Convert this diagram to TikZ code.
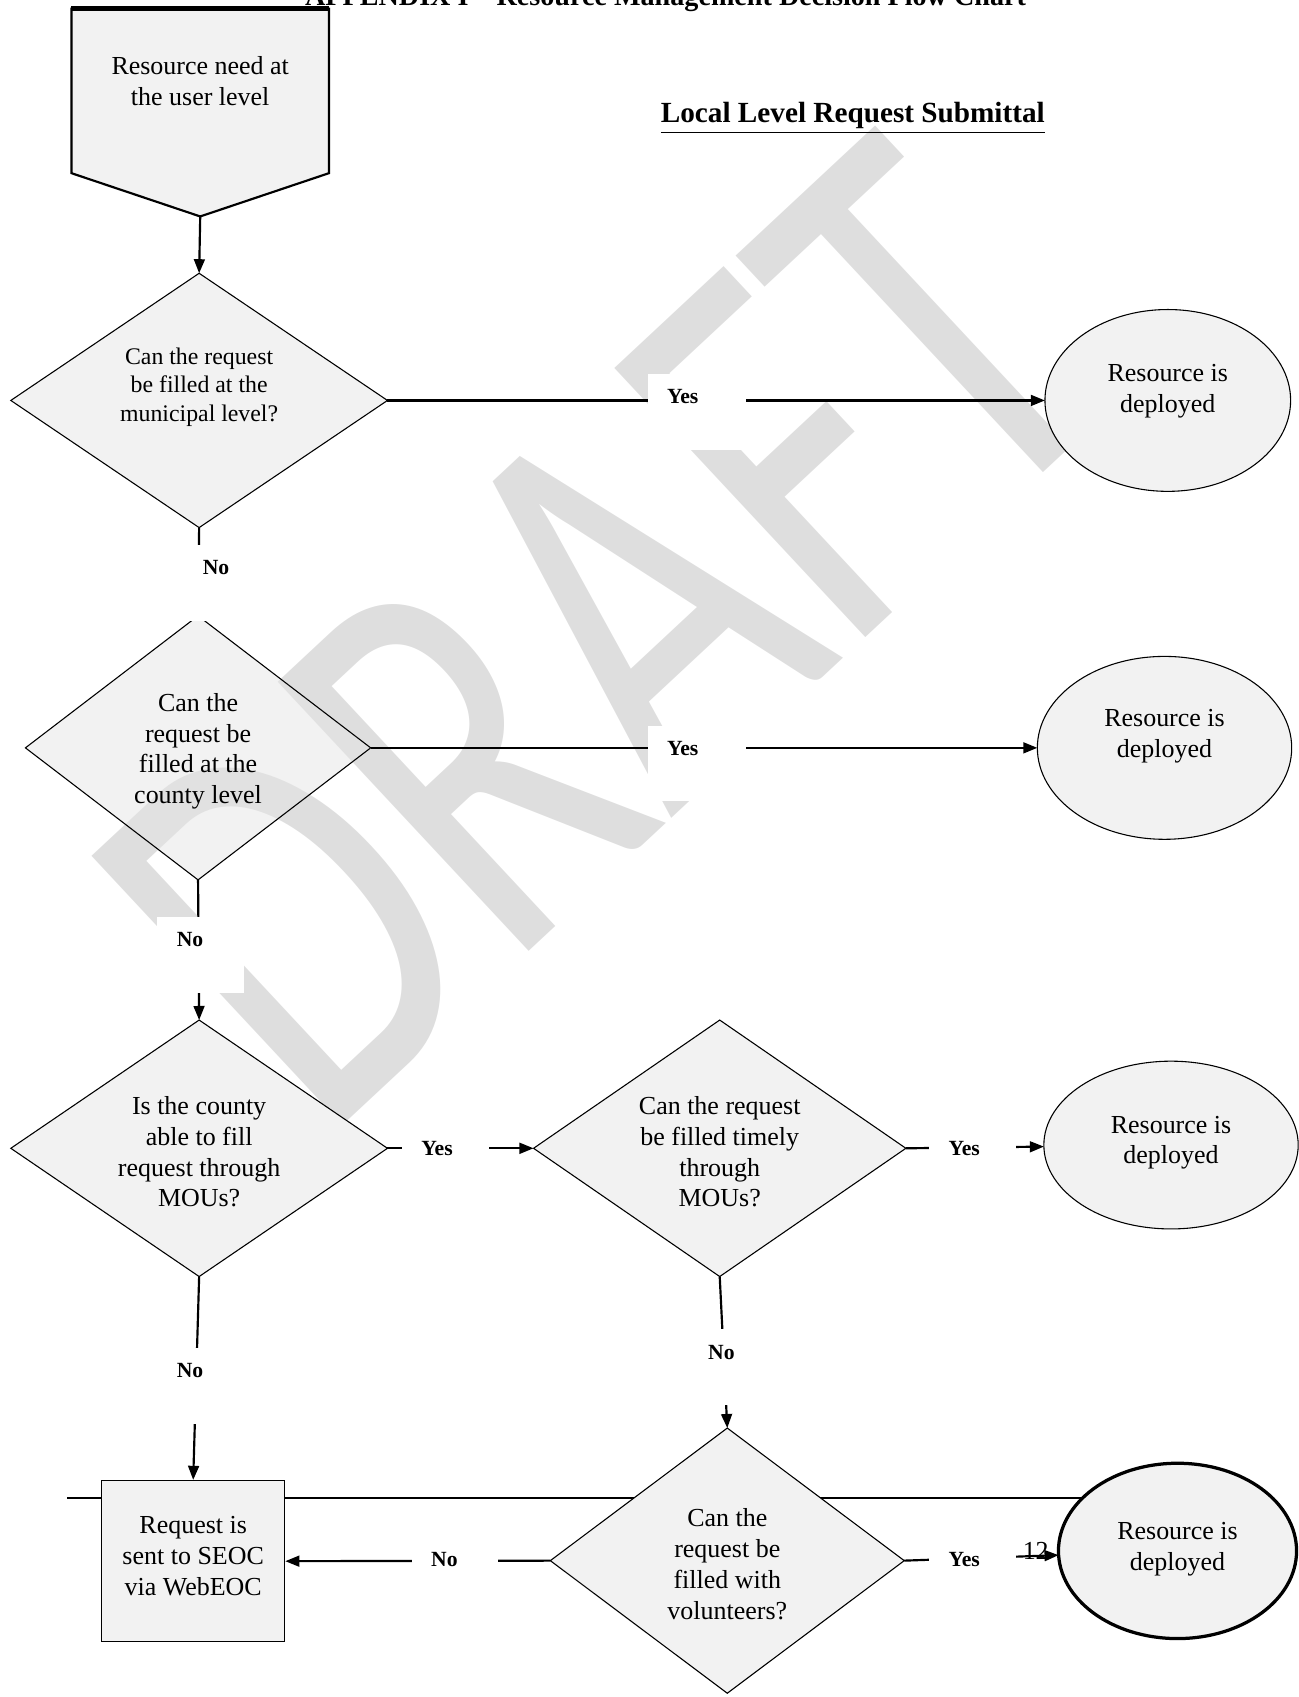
\documentclass[tikz,border=0pt]{standalone}
\usepackage{fontspec}
\setmainfont{Liberation Serif}
\newfontfamily\markfont{Carlito}
\usepackage{xcolor}
\usepackage{tikz}
\usetikzlibrary{positioning,arrows.meta,shapes.geometric}
\newcommand\liftline{\rule{0pt}{11.5pt}}

\begin{document}
\begin{tikzpicture}[
  x=0.5pt, y=-0.5pt,
  >={Triangle[length=6.5pt,width=5pt]},
  body/.style={font=\fontsize{12}{14.3}\selectfont},
  decision/.style={
    diamond,
    aspect=1.5,
    draw=black,
    line width=0.5pt,
    fill=panel,
    align=center,
    inner sep=0pt,
    outer sep=0pt,
    body
  },
  outcome/.style={
    ellipse,
    draw=black,
    line width=0.5pt,
    fill=panel,
    align=center,
    inner sep=0pt,
    outer sep=0pt,
    body
  },
  answer/.style={
    anchor=north west,
    fill=white,
    font=\bfseries\fontsize{10}{12}\selectfont,
    text width=22pt,
    align=left,
    inner xsep=9pt,
    inner ysep=6.8pt,
    text height=7pt,
    text depth=14.4pt
  },
  flow/.style={->,line width=1pt}
]
\definecolor{panel}{HTML}{F2F2F2}
\definecolor{panelsee}{HTML}{E5E5E5}
\definecolor{mark}{HTML}{DEDEDE}

\useasboundingbox (0,0) rectangle (1200,1568);

% watermark
\node[font=\markfont\fontsize{100}{100}\selectfont, text=mark, inner sep=0pt,
  rotate=43, xscale=1.9, yscale=2.65, transform shape] (draftmark) at (555,585) {DRAFT};

% page rule
\draw[line width=1pt] (62,1384) coordinate (rulestart) -- (1090,1384) coordinate (ruleend);

% start shape
\coordinate (needtip) at (185,200);
\filldraw[fill=panel, line width=1pt] (66,8) -- (304,8) -- (304,160) -- (needtip) -- (66,160) -- cycle;
\draw[line width=2pt] (66,8) -- (304,8);
\node[body, align=center] (need) at (185,75) {Resource need at\\the user level};

\node[font=\bfseries\fontsize{13}{15}\selectfont, anchor=base] (appx) at (615,5) {APPENDIX I – Resource Management Decision Flow Chart};
\node[font=\bfseries\fontsize{13.5}{16}\selectfont] (section) at (788,109) {\underline{Local Level Request Submittal}};

% decisions
\node[decision, minimum width=174pt, minimum height=117.5pt, font=\fontsize{11}{13}\selectfont] (muni) at (184,370)
  {\liftline Can the request\\be filled at the\\municipal level?\\[5.5pt]\mbox{}};
\node[decision, minimum width=159.5pt, minimum height=122pt, fill=panelsee, fill opacity=0.5, text opacity=1] (county) at (183,691)
  {\liftline Can the\\request be\\filled at the\\county level};
\node[decision, minimum width=174pt, minimum height=118.5pt] (mou) at (184,1061)
  {\liftline Is the county\\able to fill\\request through\\MOUs?};
\node[decision, minimum width=172pt, minimum height=118.5pt] (timely) at (665,1061)
  {\liftline Can the request\\be filled timely\\through\\MOUs?};
\node[decision, minimum width=163.5pt, minimum height=122.5pt] (volun) at (672,1442)
  {\liftline Can the\\request be\\filled with\\volunteers?};

% outcomes
\node[outcome, minimum width=113.5pt, minimum height=84pt] (dep1) at (1079,370) {\liftline Resource is\\deployed\\[0pt]\mbox{}};
\node[outcome, minimum width=117.5pt, minimum height=84.5pt] (dep2) at (1076,691) {\liftline Resource is\\deployed\\[3pt]\mbox{}};
\node[outcome, minimum width=117.5pt, minimum height=77.5pt] (dep3) at (1082,1058) {\liftline Resource is\\deployed\\[-6pt]\mbox{}};
\node[outcome, minimum width=110pt, minimum height=81pt, line width=1.5pt] (dep4) at (1088,1433) {\liftline Resource is\\deployed\\[-7pt]\mbox{}};

\node[rectangle, draw=black, line width=0.6pt, fill=panel, minimum width=84.5pt, minimum height=74.5pt,
  inner sep=0pt, align=center, body] (seoc) at (178.5,1442.5) {\liftline Request is\\sent to SEOC\\via WebEOC\\[-5.8pt]\mbox{}};

\node[body] (pagenum) at (957,1433) {12};

% connectors
\draw[flow] (needtip) -- (muni.north);
\draw[flow] (muni.east) -- (dep1);
\draw[flow] (muni.south) -- (county.north);
\draw[flow] (county.east) -- (dep2);
\draw[flow] (county.south) -- (mou.north);
\draw[flow] (mou.east) -- (timely.west);
\draw[flow] (timely.east) -- (dep3);
\draw[flow] (mou.south) -- (seoc.north);
\draw[flow] (timely.south) -- (volun.north);
\draw[flow] (volun.west) -- (seoc.east);
\draw[flow] (volun.east) -- (dep4);

% answers
\node[answer, text width=27.5pt] (yesmuni) at (598,345) {Yes};
\node[answer, text width=27.5pt] (yescounty) at (598,670) {Yes};
\node[answer] (yesmou) at (371,1040) {Yes};
\node[answer] (yestimely) at (858,1040) {Yes};
\node[answer] (yesvolun) at (858,1419) {Yes};
\node[answer] (novolun) at (380,1419) {No};
\node[answer] (nomuni) at (169,503) {No};
\node[answer] (nocounty) at (145,847) {No};
\node[answer] (nomou) at (145,1245) {No};
\node[answer] (notimely) at (636,1228) {No};
\end{tikzpicture}
\end{document}
